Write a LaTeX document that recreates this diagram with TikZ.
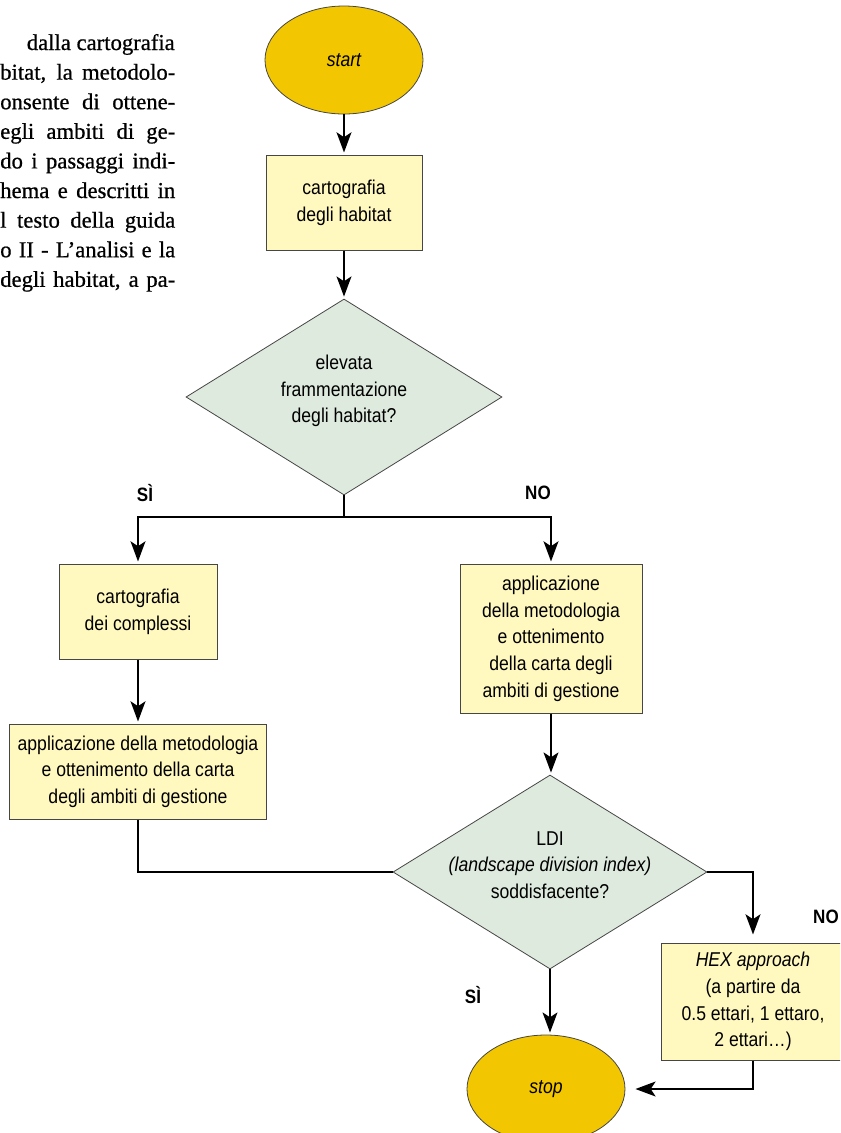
\documentclass[tikz,border=0pt]{standalone}
\usepackage{fontspec}
\setmainfont{Liberation Sans}[FakeStretch=0.88]
\newfontfamily\parafont{Liberation Serif}[FakeBold=0.7]
\usetikzlibrary{shapes.geometric,arrows.meta}

\begin{document}
\begin{tikzpicture}[x=0.75pt, y=-0.75pt,
  every node/.style={font=\fontsize{15}{20}\selectfont, align=center},
  terminal/.style={ellipse, draw=BoxLine, line width=0.6pt, fill=TermFill, inner sep=0pt,
                   minimum width=118.5pt, minimum height=81pt},
  stepbox/.style={rectangle, draw=BoxLine, line width=0.75pt, fill=BoxFill, inner sep=0pt},
  choice/.style={diamond, aspect=1.6, draw=BoxLine, line width=0.6pt, fill=ChoiceFill, inner sep=0pt},
  flow/.style={line width=2.2pt, black},
  arrow/.style={flow, -{Stealth[length=15pt,width=11pt,inset=3.5pt]}, shorten >=1.5pt},
  answer/.style={font=\fontsize{14.5}{16}\selectfont\bfseries},
  paraline/.style={inner sep=0pt, font=\parafont\fontsize{17}{20}\selectfont}]

\definecolor{TermFill}{RGB}{242,198,0}
\definecolor{BoxFill}{RGB}{255,249,192}
\definecolor{ChoiceFill}{RGB}{221,234,221}
\definecolor{BoxLine}{RGB}{70,70,70}

\useasboundingbox (0,0) rectangle (840,1133);
\clip (0,0) rectangle (840,1133);

% Text column on the left
\node[paraline, anchor=base east] (par1) at (175,50) {dalla cartografia};
\foreach \txt [count=\i from 2] in {{bitat, la metodolo-}, onsente di ottene-,
    egli ambiti di ge-, do i passaggi indi-, hema e descritti in, l testo della guida,
    o II - L’analisi e la, {degli habitat, a pa-}}
{
    \node[paraline, anchor=base west, name=par\i] at (0,{50+29.6*(\i-1)})
        {\makebox[131.25pt][s]{\txt}};
}

% Shapes
\node[terminal] (start) at (344,60) {\itshape start};
\node[stepbox, minimum width=117pt, minimum height=71.25pt] (hab) at (344,202.5)
    {cartografia\\degli habitat};
\node[choice, minimum width=237pt, minimum height=147pt] (frag) at (344,397) {};
\node (fraglabel) at (344,391) {elevata\\frammentazione\\degli habitat?};

\node[stepbox, minimum width=118.5pt, minimum height=71.25pt] (compl) at (138,611.5)
    {cartografia\\dei complessi};
\node[stepbox, minimum width=192.75pt, minimum height=71.25pt] (appl1) at (138,771.5)
    {applicazione della metodologia\\e ottenimento della carta\\degli ambiti di gestione};

\node[stepbox, minimum width=136.5pt, minimum height=111.75pt] (appl2) at (551,638.5)
    {applicazione\\della metodologia\\e ottenimento\\della carta degli\\ambiti di gestione};

\node[choice, minimum width=235.5pt, minimum height=145.5pt] (ldi) at (550,872) {};
\node (ldilabel) at (550,865) {LDI\\\textit{(landscape division index)}\\soddisfacente?};

\node[stepbox, minimum width=138pt, minimum height=87.75pt] (hex) at (753,1001.5)
    {\textit{HEX approach}\\(a partire da\\0.5 ettari, 1 ettaro,\\2 ettari…)};
\node[terminal] (stop) at (546,1089) {\itshape stop};

% Labels
\node[answer] (yes1) at (145,493) {SÌ};
\node[answer] (no1) at (538,493) {NO};
\node[answer] (yes2) at (473,995) {SÌ};
\node[answer, anchor=east, inner sep=0pt] (no2) at (839,917) {NO};

% Connectors
\coordinate (split) at (344,517);
\draw[arrow] (start) -- (hab);
\draw[arrow] (hab) -- (frag);
\draw[flow] (frag.south) -- (split);
\draw[arrow] (split) -| (compl.north);
\draw[arrow] (split) -| (appl2.north);
\draw[arrow] (compl) -- (appl1);
\draw[flow] (appl1.south) |- (ldi.west);
\draw[arrow] (appl2.south) -- (appl2.south |- ldi.north);
\draw[arrow, shorten >=6pt] (ldi.east) -| (hex.north);
\draw[arrow] (ldi.south) -- (ldi.south |- stop.north);
\draw[arrow, shorten >=7.5pt] (hex.south) |- (stop.east);
\end{tikzpicture}
\end{document}
